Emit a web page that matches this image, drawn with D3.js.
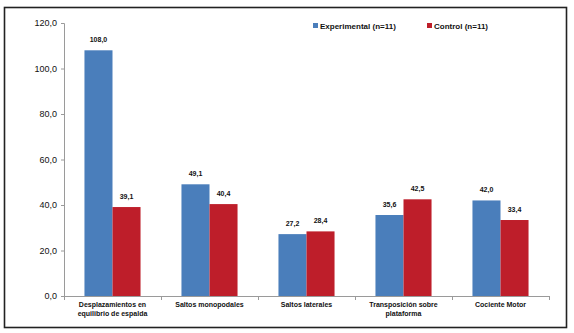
<!DOCTYPE html>
<html>
<head>
<meta charset="utf-8">
<script src="https://cdn.jsdelivr.net/npm/d3@7"></script>
<style>
body{margin:0;background:#fff;}
text{font-family:"Liberation Sans",Arial,sans-serif;}
</style>
</head>
<body>
<div id="chart"></div>
<script>
let categories = [['Desplazamientos en','equilibrio de espalda'],['Saltos monopodales'],['Saltos laterales'],['Transposición sobre','plataforma'],['Cociente Motor']];
let experimental = [108.0, 49.1, 27.2, 35.6, 42.0];
let control = [39.1, 40.4, 28.4, 42.5, 33.4];
let series_names = ['Experimental (n=11)','Control (n=11)'];
let series_colors = ['#4a7ebb','#be1e2a'];
let y_ticks = [0,20,40,60,80,100,120];

let chart_width = 574;
let chart_height = 333;

let svg = d3.select('#chart')
    .append('svg')
    .attr('width',chart_width)
    .attr('height',chart_height);

// outer frame
svg.append('rect')
    .attr('x',4.5)
    .attr('y',7.5)
    .attr('width',562)
    .attr('height',320)
    .attr('fill','none')
    .attr('stroke','#222')
    .attr('stroke-width',1.6);

const fmt = v => v.toFixed(1).replace('.',',');

const xScale = d3.scaleBand().domain(d3.range(categories.length)).range([64,549]).paddingInner(0).paddingOuter(0);
const yScale = d3.scaleLinear().domain([0,120]).range([296,23]);
const inner = d3.scaleBand().domain([0,1]).range([0,xScale.bandwidth()]).paddingInner(0).paddingOuter(0.73);

// y axis
let yAxis = svg.append('g')
    .attr('transform','translate(64,0)')
    .call(d3.axisLeft(yScale).tickValues(y_ticks).tickSize(3).tickPadding(4).tickFormat(fmt));
yAxis.select('.domain').attr('stroke','#9a9a9a');
yAxis.selectAll('.tick line').attr('stroke','#9a9a9a');
yAxis.selectAll('text').attr('font-size','9px').attr('fill','#111');

// x axis line and separators
svg.append('line')
    .attr('x1',64).attr('x2',549)
    .attr('y1',yScale(0)+0.5).attr('y2',yScale(0)+0.5)
    .attr('stroke','#9a9a9a');
d3.range(categories.length+1).forEach(function(i){
    let x = i<categories.length ? xScale(i) : xScale(i-1)+xScale.bandwidth();
    svg.append('line')
        .attr('x1',Math.round(x)+0.5).attr('x2',Math.round(x)+0.5)
        .attr('y1',yScale(0)).attr('y2',yScale(0)+4)
        .attr('stroke','#9a9a9a');
});

let all_series = [experimental, control];
all_series.forEach(function(values, s){
    let g = svg.append('g').attr('class','series'+s);
    g.selectAll('rect')
        .data(values)
        .enter()
        .append('rect')
        .attr('x',(d,i)=>xScale(i)+inner(s))
        .attr('y',d=>yScale(d))
        .attr('width',inner.bandwidth())
        .attr('height',d=>yScale(0)-yScale(d))
        .attr('fill',series_colors[s]);
    g.selectAll('text')
        .data(values)
        .enter()
        .append('text')
        .text(d=>fmt(d))
        .attr('x',(d,i)=>xScale(i)+inner(s)+inner.bandwidth()/2)
        .attr('y',d=>yScale(d)-8)
        .attr('text-anchor','middle')
        .attr('font-size','7px')
        .attr('font-weight','bold')
        .attr('fill','#111');
});

// category labels
categories.forEach(function(lines, i){
    let t = svg.append('text')
        .attr('x',xScale(i)+xScale.bandwidth()/2)
        .attr('y',yScale(0)+11)
        .attr('text-anchor','middle')
        .attr('font-size','7px')
        .attr('font-weight','bold')
        .attr('fill','#111');
    lines.forEach(function(line, k){
        t.append('tspan')
            .attr('x',xScale(i)+xScale.bandwidth()/2)
            .attr('dy',k===0?0:9)
            .text(line);
    });
});

// legend
let legend_x = [313, 427];
series_names.forEach(function(name, s){
    svg.append('rect')
        .attr('x',legend_x[s]).attr('y',23)
        .attr('width',5).attr('height',5)
        .attr('fill',series_colors[s]);
    svg.append('text')
        .text(name)
        .attr('x',legend_x[s]+7)
        .attr('y',29)
        .attr('font-size','8px')
        .attr('font-weight','bold')
        .attr('fill','#111');
});
</script>
</body>
</html>
